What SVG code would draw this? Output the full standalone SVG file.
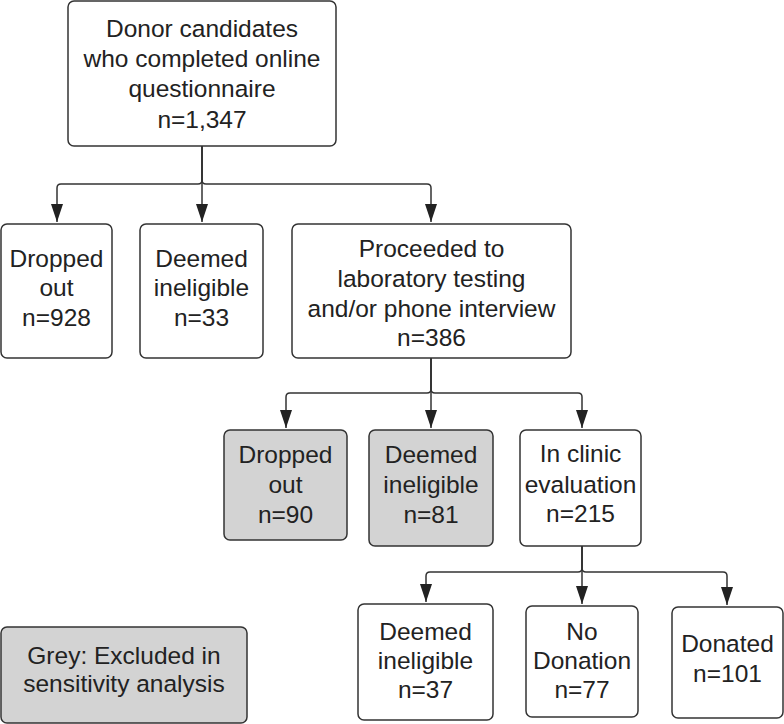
<svg xmlns="http://www.w3.org/2000/svg" width="784" height="724" viewBox="0 0 784 724">
<style>
.box{fill:#ffffff;stroke:#333333;stroke-width:1.5}
.grey{fill:#d3d3d3;stroke:#333333;stroke-width:1.5}
.t{font-family:"Liberation Sans",Arial,sans-serif;font-size:24.5px;fill:#222222;text-anchor:middle}
.c{fill:none;stroke:#333333;stroke-width:1.5}
</style>
<defs>
<marker id="ah" viewBox="0 0 18 12" refX="18" refY="6" markerWidth="18" markerHeight="12" markerUnits="userSpaceOnUse" orient="auto">
<path d="M0,0 L18,6 L0,12 z" fill="#222222"/>
</marker>
</defs>
<rect width="784" height="724" fill="#ffffff"/>
<g id="connectors">
<path class="c" d="M202,146 V180 Q202,184 198,184 H61 Q57,184 57,188 V222" marker-end="url(#ah)"/>
<path class="c" d="M202,146 V222" marker-end="url(#ah)"/>
<path class="c" d="M202,146 V180 Q202,184 206,184 H427 Q431,184 431,188 V222" marker-end="url(#ah)"/>
<path class="c" d="M431,358 V389 Q431,393 427,393 H290 Q286,393 286,397 V428" marker-end="url(#ah)"/>
<path class="c" d="M431,358 V428" marker-end="url(#ah)"/>
<path class="c" d="M431,358 V389 Q431,393 435,393 H578 Q582,393 582,397 V428" marker-end="url(#ah)"/>
<path class="c" d="M582,546 V568 Q582,572 578,572 H430 Q426,572 426,576 V602" marker-end="url(#ah)"/>
<path class="c" d="M582,546 V604" marker-end="url(#ah)"/>
<path class="c" d="M582,546 V568 Q582,572 586,572 H723 Q727,572 727,576 V605" marker-end="url(#ah)"/>
</g>
<g id="n-top">
<rect class="box" x="68" y="1" width="268" height="145" rx="6"/>
<text class="t"><tspan x="202" y="37">Donor candidates</tspan><tspan x="202" y="67">who completed online</tspan><tspan x="202" y="97">questionnaire</tspan><tspan x="202" y="128">n=1,347</tspan></text>
</g>
<g id="n-dropped1">
<rect class="box" x="1" y="224" width="111" height="134" rx="6"/>
<text class="t"><tspan x="56.5" y="267">Dropped</tspan><tspan x="56.5" y="296">out</tspan><tspan x="56.5" y="326">n=928</tspan></text>
</g>
<g id="n-inelig1">
<rect class="box" x="140" y="224" width="123" height="134" rx="6"/>
<text class="t"><tspan x="201.5" y="267">Deemed</tspan><tspan x="201.5" y="296">ineligible</tspan><tspan x="201.5" y="326">n=33</tspan></text>
</g>
<g id="n-proceeded">
<rect class="box" x="292" y="224" width="279" height="134" rx="6"/>
<text class="t"><tspan x="431.5" y="257">Proceeded to</tspan><tspan x="431.5" y="287">laboratory testing</tspan><tspan x="431.5" y="317">and/or phone interview</tspan><tspan x="431.5" y="346">n=386</tspan></text>
</g>
<g id="n-dropped2">
<rect class="grey" x="224" y="430" width="123" height="110" rx="6"/>
<text class="t"><tspan x="285.5" y="463">Dropped</tspan><tspan x="285.5" y="493">out</tspan><tspan x="285.5" y="523">n=90</tspan></text>
</g>
<g id="n-inelig2">
<rect class="grey" x="369" y="430" width="124" height="116" rx="6"/>
<text class="t"><tspan x="431" y="463">Deemed</tspan><tspan x="431" y="493">ineligible</tspan><tspan x="431" y="523">n=81</tspan></text>
</g>
<g id="n-clinic">
<rect class="box" x="520" y="430" width="121" height="116" rx="6"/>
<text class="t"><tspan x="580.5" y="462">In clinic</tspan><tspan x="580.5" y="493">evaluation</tspan><tspan x="580.5" y="522">n=215</tspan></text>
</g>
<g id="n-inelig3">
<rect class="box" x="358" y="604" width="135" height="116" rx="6"/>
<text class="t"><tspan x="425.5" y="640">Deemed</tspan><tspan x="425.5" y="669">ineligible</tspan><tspan x="425.5" y="698">n=37</tspan></text>
</g>
<g id="n-nodonation">
<rect class="box" x="526" y="606" width="112" height="111" rx="6"/>
<text class="t"><tspan x="582" y="640">No</tspan><tspan x="582" y="669">Donation</tspan><tspan x="582" y="698">n=77</tspan></text>
</g>
<g id="n-donated">
<rect class="box" x="672" y="607" width="111" height="111" rx="6"/>
<text class="t"><tspan x="727.5" y="652">Donated</tspan><tspan x="727.5" y="682">n=101</tspan></text>
</g>
<g id="legend">
<rect class="grey" x="1" y="627" width="246" height="96" rx="6"/>
<text class="t"><tspan x="124" y="664">Grey: Excluded in</tspan><tspan x="124" y="692">sensitivity analysis</tspan></text>
</g>
</svg>
